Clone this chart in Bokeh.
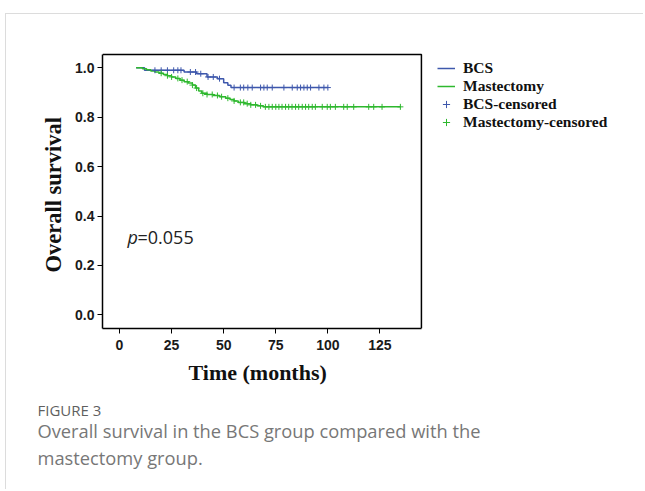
import numpy as np
from bokeh.plotting import figure
from bokeh.models import (Range1d, FixedTicker, PrintfTickFormatter, Title,
                          Legend, LegendItem)
from bokeh.core.properties import value
from bokeh.embed import file_html
from bokeh.resources import INLINE

# ---------------- data ----------------
bcs_time = [8, 12, 31, 37, 42, 47, 50, 52, 53.5, 100]
bcs_surv = [1.0, 0.99, 0.983, 0.976, 0.963, 0.956, 0.94, 0.929, 0.92, 0.92]

mast_time = [8, 11, 13, 15, 17, 19, 21, 23, 25, 27, 29, 31, 33, 35, 36.5, 38,
             39.5, 42, 45, 48, 51, 53, 55, 57, 60, 63, 66, 69, 135]
mast_surv = [1.0, 0.996, 0.992, 0.987, 0.983, 0.978, 0.973, 0.968, 0.963, 0.957,
             0.950, 0.944, 0.938, 0.930, 0.918, 0.906, 0.897, 0.892, 0.888, 0.883,
             0.877, 0.872, 0.866, 0.860, 0.855, 0.850, 0.846, 0.842, 0.842]

bcs_cens_time = [17, 20, 23, 26, 28, 29.5, 34, 36.5, 39, 42.5, 45, 48, 55, 58,
                 59.6, 61.6, 63.7, 67.7, 69.3, 70.9, 73.3, 78.9, 82.9, 85.3, 86.9,
                 88.5, 90.1, 91.7, 95.7, 98.1, 100]
mast_cens_time = [20, 23, 25, 28, 30, 32.5, 35, 37, 40, 42, 44.5, 47, 49, 52, 55,
                  58, 59.6, 61.3, 63, 65.3, 67.7, 70, 71.7, 73.3, 75, 76.5, 78,
                  79.7, 81.2, 82.8, 84.5, 86, 87.7, 89.3, 90.8, 92.5, 94, 97.3,
                  99.7, 101.2, 103.6, 107.6, 109.3, 112.4, 119.6, 122, 126, 134.8]

x_ticks = [0, 25, 50, 75, 100, 125]
y_ticks = [0.0, 0.2, 0.4, 0.6, 0.8, 1.0]

# chart box (axis extents)
x_lo, x_hi = -8.16, 144.9
y_lo, y_hi = -0.055, 1.054

series_names = ["BCS", "Mastectomy", "BCS-censored", "Mastectomy-censored"]
x_label = "Time (months)"
y_label = "Overall survival"
p_text = "p"
p_value = "=0.055"
caption_head = "FIGURE 3"
caption_lines = ["Overall survival in the BCS group compared with the",
                 "mastectomy group."]

BLUE = "#3E58AC"
GREEN = "#2EB82E"


def surv_at(times, survs, t):
    idx = np.searchsorted(np.asarray(times), t, side="right") - 1
    return [survs[i] for i in idx]


bcs_cens_surv = surv_at(bcs_time, bcs_surv, bcs_cens_time)
mast_cens_surv = surv_at(mast_time, mast_surv, mast_cens_time)

# ---------------- figure ----------------
W, H = 638, 476
p = figure(width=W, height=H, output_backend="svg", toolbar_location=None,
           x_range=Range1d(x_lo, 246.2), y_range=Range1d(y_lo, 1.0862),
           min_border_left=96, min_border_right=12, min_border_top=32,
           min_border_bottom=162, title=None)
p.styles = {"position": "relative", "left": "5px", "top": "13px",
            "border-left": "1px solid #dcdcdc", "border-top": "1px solid #dcdcdc"}

p.grid.visible = False
p.outline_line_color = None
p.background_fill_color = "white"
p.border_fill_color = "white"

for ax in (p.xaxis[0], p.yaxis[0]):
    ax.axis_line_color = "black"
    ax.axis_line_width = 1.5
    ax.major_tick_in = 0
    ax.major_tick_out = 5
    ax.major_tick_line_color = "black"
    ax.minor_tick_line_color = None
    ax.major_label_text_font = "Liberation Sans"
    ax.major_label_text_font_style = "bold"
    ax.major_label_text_font_size = "14px"
    ax.major_label_text_color = "#1a1a1a"

p.xaxis.bounds = (x_lo, x_hi)
p.yaxis.bounds = (y_lo, y_hi)
p.xaxis.ticker = FixedTicker(ticks=x_ticks)
p.yaxis.ticker = FixedTicker(ticks=y_ticks)
p.yaxis.formatter = PrintfTickFormatter(format="%.1f")
p.xaxis.major_label_standoff = 6
p.yaxis.major_label_standoff = 3

# axis titles (placed next to the axes, centred on the chart box)
p.add_layout(Title(text=y_label, align="left", offset=56, standoff=13,
                   text_font="Liberation Serif", text_font_size="22.5px",
                   text_font_style="bold", text_color="#111111"), "left")
p.add_layout(Title(text=x_label, align="left", offset=86, standoff=11,
                   text_font="Liberation Serif", text_font_size="22px",
                   text_font_style="bold", text_color="#111111"), "below")

# box around the chart area (top and right edges)
p.line(x=[x_lo, x_hi, x_hi], y=[y_hi, y_hi, y_lo], line_color="black", line_width=1.5)

# curves
r_bcs = p.step(x=bcs_time, y=bcs_surv, mode="after", line_color=BLUE, line_width=1.5)
r_mast = p.step(x=mast_time, y=mast_surv, mode="after", line_color=GREEN, line_width=1.5)
r_bcs_c = p.scatter(x=bcs_cens_time, y=bcs_cens_surv, marker="cross", size=6,
                    line_color=BLUE, line_width=1)
r_mast_c = p.scatter(x=mast_cens_time, y=mast_cens_surv, marker="cross", size=6,
                     line_color=GREEN, line_width=1)

# p-value text
p.text(x=[3.84], y=[0.316], text=[p_text], text_font=value("Open Sans"),
       text_font_size="18px", text_font_style="italic", text_baseline="middle",
       text_color="#222222")
p.text(x=[3.84], y=[0.316], text=[p_value], text_font=value("Open Sans"),
       text_font_size="18px", text_baseline="middle", text_color="#222222",
       x_offset=10)

# legend (to the right of the chart box)
legend = Legend(items=[LegendItem(label=series_names[0], renderers=[r_bcs]),
                       LegendItem(label=series_names[1], renderers=[r_mast]),
                       LegendItem(label=series_names[2], renderers=[r_bcs_c]),
                       LegendItem(label=series_names[3], renderers=[r_mast_c])],
                location=(335, 197), padding=0, margin=0, spacing=0,
                glyph_width=18, glyph_height=18, label_height=18,
                label_standoff=8, border_line_color=None,
                background_fill_alpha=0,
                label_text_font="Liberation Serif", label_text_font_style="bold",
                label_text_font_size="15.5px", label_text_color="#111111")
p.add_layout(legend)

# caption as titles below the axis title
p.add_layout(Title(text=caption_head, align="left", offset=-65, standoff=15,
                   text_font="Open Sans", text_font_size="15px",
                   text_font_style="normal", text_color="#5f5f5f"), "below")
p.add_layout(Title(text=caption_lines[0], align="left", offset=-65, standoff=-23,
                   text_font="Open Sans", text_font_size="18.3px",
                   text_font_style="normal", text_color="#777777"), "below")
p.add_layout(Title(text=caption_lines[1], align="left", offset=-65, standoff=22,
                   text_font="Open Sans", text_font_size="18.3px",
                   text_font_style="normal", text_color="#777777"), "below")

open("out.html", "w").write(file_html(p, INLINE))
